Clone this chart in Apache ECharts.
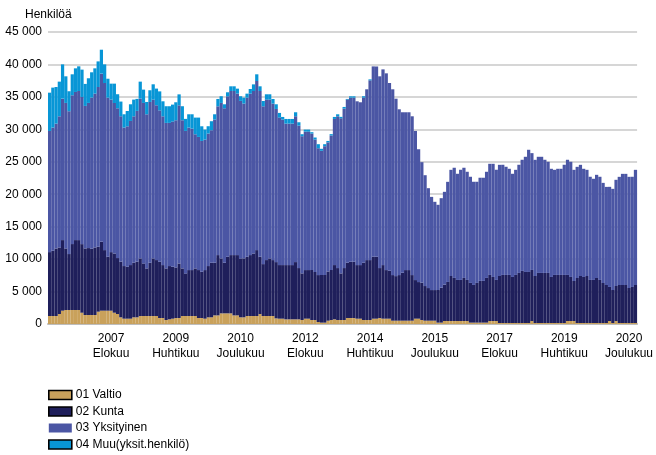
<!DOCTYPE html>
<html><head><meta charset="utf-8">
<script src="https://cdn.jsdelivr.net/npm/echarts@6/dist/echarts.min.js"></script>
<style>html,body{margin:0;padding:0;background:#fff}#c{width:656px;height:455px}</style>
</head><body><div id="c"></div>
<script>
const valtio = [
1230,1230,1230,1540,2050,2160,2160,2160,2160,2160,1740,1390,1390,1390,1390,1900,2050,2050,2050,2050,1740,1540,1030,820,820,820,1030,1030,1230,1230,
1230,1230,1230,1230,920,920,620,720,820,920,920,1230,1230,1230,1230,1230,920,920,820,1030,1030,1330,1330,1640,1640,1640,1640,1330,1330,1030,1030,
1230,1230,1230,1230,1540,1230,1230,1230,1230,870,820,820,720,720,720,720,720,620,820,820,620,620,310,210,210,510,620,720,620,620,
620,920,920,920,820,820,620,620,620,820,820,920,820,820,820,510,510,510,510,510,510,510,820,820,620,510,510,510,510,210,210,
460,460,460,460,460,460,460,460,210,210,210,210,210,210,460,460,460,150,150,150,150,150,150,150,150,150,150,460,150,150,
150,150,150,150,150,150,150,150,460,460,460,150,150,150,150,150,150,150,150,150,150,460,150,460,150,150,150,150,150,150];
const kunta = [
9850,10060,10410,10260,10880,9490,8620,10160,10770,10770,10570,10260,10310,10210,10410,10000,10620,9340,8310,9030,9130,8620,8570,8110,8000,8260,8410,8570,8880,8110,
7340,8210,8880,8620,8670,8160,7950,8210,8000,7800,8410,7340,6570,7080,7080,7340,7390,7130,7490,7900,8410,8110,9290,8470,7800,8720,8980,9290,9290,9080,9080,
9130,9390,9640,10160,8820,8000,8620,8880,8620,8670,8260,8260,8360,8360,8360,8820,7900,7180,7490,7490,7700,7390,7230,7340,7340,7590,7700,8360,8000,7180,
8000,8520,8670,8670,8260,8260,8820,9230,9230,9540,9540,7700,8260,7490,7390,7030,6870,7030,7390,7800,7800,7030,5950,5640,5750,5340,5030,4720,4720,5030,5390,
5610,6020,6940,6640,6330,6330,6640,6330,6120,5810,6120,6430,6430,6890,7100,6790,6330,7250,7410,7410,7410,7100,7410,7720,8030,7870,7870,7870,7250,7720,
7720,7720,7720,7100,7410,7410,7410,7410,7100,6790,6170,6940,7250,7100,7250,6640,6640,6940,6640,6170,5860,5250,5090,5400,5860,5860,5860,5400,5560,5860];
const yksityinen = [
18670,18980,19240,20210,21800,22420,22010,22930,22830,22980,22680,21960,22370,23290,23700,24620,25910,25750,24520,23500,23190,23090,22420,21340,21650,22210,22570,23240,24620,24730,
23750,24780,24470,23860,23340,22930,22420,22060,22370,22680,24370,22830,21960,21960,21800,20670,20520,20160,20110,20420,20420,22060,22930,23960,23800,24730,25290,25290,24880,24270,23860,
24520,24880,25030,26060,25550,24320,24730,24470,24110,23600,22730,22420,21800,21800,21800,22470,21960,21140,21340,21340,21030,20420,19550,19140,19850,19900,20730,22520,23390,23910,
24570,25140,25290,25290,25240,25090,25450,26320,27700,29340,29340,29550,30160,30320,28930,28630,27340,25550,24730,24320,24320,24470,22980,20470,18570,17080,15390,14360,13600,13130,13790,
14300,15430,16360,16980,16360,16980,16980,16670,16360,15900,15590,15900,15900,16360,17130,17440,16980,17130,16980,16670,16360,15900,16200,16670,17130,17750,18830,18000,17900,17900,
17900,17440,17130,16670,16200,16360,16360,16980,17750,17750,17130,17130,17130,16670,16360,15900,15590,15900,15900,15430,15120,15430,15590,16360,16670,17130,17130,17130,16980,17750];
const muu = [
5900,6160,5640,5340,5280,4100,3080,3230,3640,3800,4210,3390,3800,3900,3900,3950,3690,2870,2920,2460,2980,2160,2260,2050,2360,2570,2570,1850,2620,2050,
1900,1800,2360,2570,2920,2310,2570,2570,2620,2770,1690,2160,1850,2050,2210,2570,2980,2260,1540,1130,1390,820,1130,1030,620,620,720,720,770,720,920,
620,720,1030,1030,720,820,820,820,720,720,720,410,720,720,720,620,510,310,310,310,210,310,620,310,310,210,210,310,310,210,
260,100,210,210,0,0,210,0,150,0,0,0,0,0,0,0,0,0,0,0,0,0,0,0,0,0,0,0,0,0,0,
0,0,0,0,0,0,0,0,0,0,0,0,0,0,0,0,0,0,0,0,0,0,0,0,0,0,0,0,0,0,
0,0,0,0,0,0,0,0,0,0,0,0,0,0,0,0,0,0,0,0,0,0,0,0,0,0,0,0,0,0];
const monthNames = ['Tammikuu','Helmikuu','Maaliskuu','Huhtikuu','Toukokuu','Kesäkuu','Heinäkuu','Elokuu','Syyskuu','Lokakuu','Marraskuu','Joulukuu'];
const startYear = 2006;
const categories = valtio.map((_, i) => (startYear + Math.floor(i / 12)) + '\n' + monthNames[i % 12]);
const seriesNames = ['01 Valtio', '02 Kunta', '03 Yksityinen', '04 Muu(yksit.henkilö)'];
const seriesData = [valtio, kunta, yksityinen, muu];
const colors = ['#C9A15B', '#1F1F5B', '#4B56A4', '#0896D6'];

const FONT = 'Liberation Sans, Arial, sans-serif';
const chart = echarts.init(document.getElementById('c'), null, {renderer: 'canvas'});
chart.setOption({
  animation: false,
  textStyle: {fontFamily: FONT},
  title: {text: 'Henkilöä', left: 25, top: 9, padding: 0,
    textStyle: {fontSize: 12, fontWeight: 'normal', color: '#000', fontFamily: FONT}},
  legend: {
    orient: 'vertical', left: 48, top: 389, height: 80, padding: 0,
    itemWidth: 23, itemHeight: 9, itemGap: 4.5,
    icon: 'rect',
    textStyle: {fontSize: 12, color: '#000', fontFamily: FONT, padding: [0, 0, 0, -1]},
    data: seriesNames.map((n, i) => ({name: n, itemStyle: i === 2 ? {borderWidth: 0} : {borderColor: '#000', borderWidth: 1.6}}))
  },
  grid: {left: 48, right: 13, top: 32, bottom: 131, containLabel: false},
  xAxis: {
    type: 'category', data: categories, boundaryGap: true,
    axisTick: {show: false},
    axisLine: {lineStyle: {color: '#bdbdbd', width: 2}},
    axisLabel: {
      interval: (i) => (i - 19) % 20 === 0,
      fontSize: 12, color: '#000', lineHeight: 15, margin: 7, fontFamily: FONT
    }
  },
  yAxis: {
    type: 'value', min: 0, max: 45000, interval: 5000,
    axisLine: {show: false}, axisTick: {show: false},
    splitLine: {lineStyle: {color: '#c8c8c8', width: 1.5}},
    axisLabel: {fontSize: 12, color: '#000', margin: 6, fontFamily: FONT,
      formatter: (v) => v === 0 ? '0' : String(v).replace(/\B(?=(\d{3})+(?!\d))/g, ' ')}
  },
  series: seriesData.map((d, i) => ({
    name: seriesNames[i], type: 'bar', stack: 'total', data: d,
    barCategoryGap: '0%',
    itemStyle: {color: colors[i], borderWidth: 0},
    emphasis: {disabled: true}
  }))
});
</script></body></html>
